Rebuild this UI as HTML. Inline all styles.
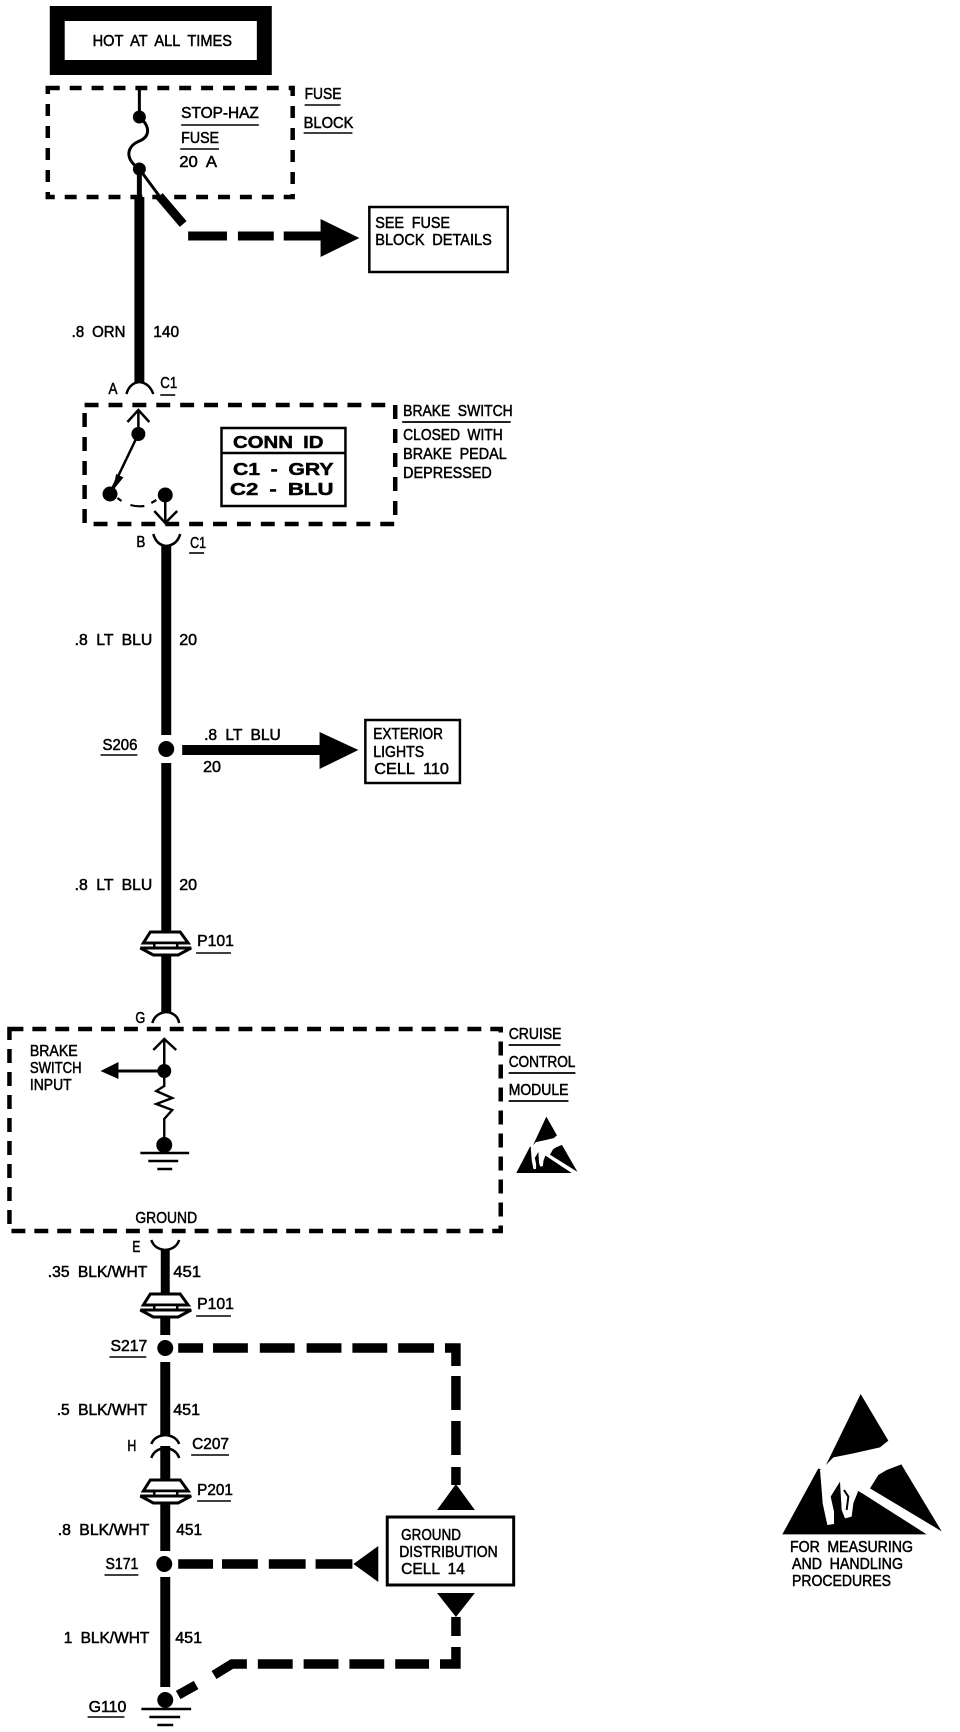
<!DOCTYPE html>
<html><head><meta charset="utf-8"><style>
html,body{margin:0;padding:0;background:#fff;width:960px;height:1732px;overflow:hidden}
svg{display:block}
text{font-family:"Liberation Sans",sans-serif;font-size:15.5px;fill:#000;stroke:#000;stroke-width:.5;word-spacing:4px}
.b{font-size:18px;font-weight:bold}
</style></head><body>
<svg width="960" height="1732" viewBox="0 0 960 1732" xmlns="http://www.w3.org/2000/svg">
<g transform="scale(.9955,1)">
<!-- HOT box -->
<rect x="57.5" y="13.5" width="208" height="54" fill="#fff" stroke="#000" stroke-width="15"/>
<text x="93" y="46" textLength="140" lengthAdjust="spacingAndGlyphs">HOT AT ALL TIMES</text>
<!-- Fuse block -->
<rect x="48" y="88" width="246" height="109" fill="none" stroke="#000" stroke-width="4.5" stroke-dasharray="12 10"/>
<path d="M140 88V117" stroke="#000" stroke-width="3"/>
<path d="M140 117C152 127 150 137 140 141C128 146 124 158 140 169" fill="none" stroke="#000" stroke-width="3"/>
<circle cx="140" cy="117" r="6.5"/><circle cx="140" cy="169" r="6.5"/>
<path d="M140 169V197" stroke="#000" stroke-width="5"/>
<path d="M140 197V382" stroke="#000" stroke-width="10"/>
<path d="M140 169L160 196" stroke="#000" stroke-width="3"/>
<path d="M160 196L184 224" stroke="#000" stroke-width="9"/>
<path d="M189 236H228M239 236H275M285 236H323" stroke="#000" stroke-width="9"/>
<polygon points="322,219 361,238 322,257"/>
<rect x="371" y="207" width="139" height="65" fill="#fff" stroke="#000" stroke-width="2.5"/>
<text x="377" y="228" textLength="75" lengthAdjust="spacingAndGlyphs">SEE FUSE</text>
<text x="377" y="245" textLength="117" lengthAdjust="spacingAndGlyphs">BLOCK DETAILS</text>
<text x="306" y="99" textLength="37" lengthAdjust="spacingAndGlyphs">FUSE</text>
<path d="M306 105H342" stroke="#000" stroke-width="1.6"/>
<text x="305" y="128" textLength="50" lengthAdjust="spacingAndGlyphs">BLOCK</text>
<path d="M305 133H354" stroke="#000" stroke-width="1.6"/>
<text x="182" y="118" textLength="78" lengthAdjust="spacingAndGlyphs">STOP-HAZ</text>
<path d="M182 125H260" stroke="#000" stroke-width="1.6"/>
<text x="182" y="143" textLength="38" lengthAdjust="spacingAndGlyphs">FUSE</text>
<path d="M181 149H220" stroke="#000" stroke-width="1.6"/>
<text x="180" y="167" textLength="38" lengthAdjust="spacingAndGlyphs">20 A</text>
<text x="72" y="337" textLength="54" lengthAdjust="spacingAndGlyphs">.8 ORN</text>
<text x="154" y="337" textLength="26" lengthAdjust="spacingAndGlyphs">140</text>
<text x="109" y="394" textLength="9" lengthAdjust="spacingAndGlyphs">A</text>
<text x="161" y="388" textLength="17" lengthAdjust="spacingAndGlyphs">C1</text>
<path d="M161 395H176" stroke="#000" stroke-width="1.6"/>
<path d="M127 394Q130 383 140 382Q150 383 154 394" fill="none" stroke="#000" stroke-width="2.5"/>
<!-- Brake switch -->
<rect x="85" y="405" width="312" height="119" fill="none" stroke="#000" stroke-width="4.5" stroke-dasharray="14 10"/>
<path d="M139 410V434M128 422L139 410L150 422" fill="none" stroke="#000" stroke-width="2.5"/>
<circle cx="139" cy="434" r="7"/><circle cx="110.5" cy="494" r="7.5"/><circle cx="166" cy="495" r="7.5"/>
<path d="M139 434L112 490" stroke="#000" stroke-width="2.5"/>
<polygon points="113,491 116.7,474 124,477.4"/>
<path d="M118 498L122 501M131 505Q138 507 145 506M152 503L157 500" fill="none" stroke="#000" stroke-width="2.2"/>
<path d="M166 495V523M155 511L166 523L178 511" fill="none" stroke="#000" stroke-width="2.5"/>
<rect x="222.5" y="428" width="124.5" height="78" fill="#fff" stroke="#000" stroke-width="2.5"/>
<path d="M222 453H347" stroke="#000" stroke-width="2.5"/>
<text class="b" x="234" y="448" textLength="91" lengthAdjust="spacingAndGlyphs">CONN ID</text>
<text class="b" x="234" y="475" textLength="101" lengthAdjust="spacingAndGlyphs">C1 - GRY</text>
<text class="b" x="231" y="495" textLength="104" lengthAdjust="spacingAndGlyphs">C2 - BLU</text>
<text x="405" y="416" textLength="110" lengthAdjust="spacingAndGlyphs">BRAKE SWITCH</text>
<path d="M404 422H513" stroke="#000" stroke-width="1.8"/>
<text x="405" y="440" textLength="100" lengthAdjust="spacingAndGlyphs">CLOSED WITH</text>
<text x="405" y="459" textLength="104" lengthAdjust="spacingAndGlyphs">BRAKE PEDAL</text>
<text x="405" y="478" textLength="89" lengthAdjust="spacingAndGlyphs">DEPRESSED</text>
<text x="137" y="547" textLength="9" lengthAdjust="spacingAndGlyphs">B</text>
<text x="191" y="548" textLength="16" lengthAdjust="spacingAndGlyphs">C1</text>
<path d="M190 553H205" stroke="#000" stroke-width="1.6"/>
<path d="M154 534Q157 545 167 546Q178 545 181 534" fill="none" stroke="#000" stroke-width="2.5"/>
<!-- Main wire -->
<path d="M167 546V735M167 763V933" stroke="#000" stroke-width="10"/>
<circle cx="167" cy="749" r="8"/>
<text x="75" y="645" textLength="78" lengthAdjust="spacingAndGlyphs">.8 LT BLU</text>
<text x="180" y="645" textLength="18" lengthAdjust="spacingAndGlyphs">20</text>
<text x="103" y="750" textLength="35" lengthAdjust="spacingAndGlyphs">S206</text>
<path d="M101 755H138" stroke="#000" stroke-width="1.6"/>
<path d="M183 750H323" stroke="#000" stroke-width="10"/>
<polygon points="321,732 360,750 321,769"/>
<text x="205" y="740" textLength="77" lengthAdjust="spacingAndGlyphs">.8 LT BLU</text>
<text x="204" y="772" textLength="18" lengthAdjust="spacingAndGlyphs">20</text>
<rect x="367" y="720" width="95" height="63" fill="#fff" stroke="#000" stroke-width="2.5"/>
<text x="375" y="739" textLength="70" lengthAdjust="spacingAndGlyphs">EXTERIOR</text>
<text x="375" y="757" textLength="51" lengthAdjust="spacingAndGlyphs">LIGHTS</text>
<text x="376" y="774" textLength="75" lengthAdjust="spacingAndGlyphs">CELL 110</text>
<text x="75" y="890" textLength="78" lengthAdjust="spacingAndGlyphs">.8 LT BLU</text>
<text x="180" y="890" textLength="18" lengthAdjust="spacingAndGlyphs">20</text>
<!-- P101 a -->
<g fill="#fff" stroke="#000" stroke-width="3">
<path d="M151 932H181L189 943H144Z"/>
<path d="M155 943H178V948H155Z" stroke-width="2.5"/>
<path d="M141 948H192L179 955H154Z"/>
</g>
<path d="M167 956V1013" stroke="#000" stroke-width="10"/>
<text x="198" y="946" textLength="37" lengthAdjust="spacingAndGlyphs">P101</text>
<path d="M197 953H232" stroke="#000" stroke-width="1.6"/>
<text x="136" y="1023" textLength="10" lengthAdjust="spacingAndGlyphs">G</text>
<path d="M153 1023Q156 1013 167 1012Q178 1013 180 1023" fill="none" stroke="#000" stroke-width="2.5"/>
<!-- Cruise module -->
<rect x="9.5" y="1029" width="493.5" height="202" fill="none" stroke="#000" stroke-width="4.5" stroke-dasharray="14 9"/>
<path d="M165 1039V1071M154 1050L165 1039L177 1050" fill="none" stroke="#000" stroke-width="2.5"/>
<circle cx="165" cy="1071" r="7"/>
<path d="M165 1071H118" stroke="#000" stroke-width="3"/>
<polygon points="101,1071 119,1062 119,1079"/>
<path d="M165 1078V1086L157 1091L173 1098L157 1104L173 1110L165 1119V1145" fill="none" stroke="#000" stroke-width="2.4"/>
<circle cx="165" cy="1145" r="8"/>
<path d="M141 1153H190M149 1161H179M158 1169H173" stroke="#000" stroke-width="2.5"/>
<text x="30" y="1056" textLength="48" lengthAdjust="spacingAndGlyphs">BRAKE</text>
<text x="30" y="1073" textLength="52" lengthAdjust="spacingAndGlyphs">SWITCH</text>
<text x="30" y="1090" textLength="42" lengthAdjust="spacingAndGlyphs">INPUT</text>
<text x="136" y="1223" textLength="62" lengthAdjust="spacingAndGlyphs">GROUND</text>
<text x="133" y="1252" textLength="8" lengthAdjust="spacingAndGlyphs">E</text>
<path d="M152 1240Q155 1249 166 1250Q177 1249 180 1240" fill="none" stroke="#000" stroke-width="2.5"/>
<text x="511" y="1039" textLength="53" lengthAdjust="spacingAndGlyphs">CRUISE</text>
<path d="M511 1045H563" stroke="#000" stroke-width="1.8"/>
<text x="511" y="1067" textLength="67" lengthAdjust="spacingAndGlyphs">CONTROL</text>
<path d="M511 1073H578" stroke="#000" stroke-width="1.8"/>
<text x="511" y="1095" textLength="60" lengthAdjust="spacingAndGlyphs">MODULE</text>
<path d="M511 1101H571" stroke="#000" stroke-width="1.8"/>
<!-- Lower wire -->
<path d="M166 1250V1294" stroke="#000" stroke-width="9"/>
<text x="48" y="1277" textLength="100" lengthAdjust="spacingAndGlyphs">.35 BLK/WHT</text>
<text x="174" y="1277" textLength="28" lengthAdjust="spacingAndGlyphs">451</text>
<g fill="#fff" stroke="#000" stroke-width="3">
<path d="M151 1294H181L189 1305H144Z"/>
<path d="M155 1305H178V1310H155Z" stroke-width="2.5"/>
<path d="M141 1310H192L179 1317H154Z"/>
</g>
<text x="198" y="1309" textLength="37" lengthAdjust="spacingAndGlyphs">P101</text>
<path d="M197 1316H232" stroke="#000" stroke-width="1.6"/>
<path d="M166 1318V1335M166 1362V1436M166 1446V1481" stroke="#000" stroke-width="10"/>
<circle cx="166" cy="1348" r="8"/>
<path d="M152 1444Q155 1436 166 1435Q177 1436 180 1444M152 1458Q155 1449 166 1448Q177 1449 180 1458" fill="none" stroke="#000" stroke-width="2.5"/>
<text x="111" y="1351" textLength="37" lengthAdjust="spacingAndGlyphs">S217</text>
<path d="M110 1357H147" stroke="#000" stroke-width="1.6"/>
<text x="57" y="1415" textLength="91" lengthAdjust="spacingAndGlyphs">.5 BLK/WHT</text>
<text x="174" y="1415" textLength="27" lengthAdjust="spacingAndGlyphs">451</text>
<text x="128" y="1451" textLength="9" lengthAdjust="spacingAndGlyphs">H</text>
<text x="193" y="1449" textLength="37" lengthAdjust="spacingAndGlyphs">C207</text>
<path d="M192 1455H230" stroke="#000" stroke-width="1.6"/>
<g fill="#fff" stroke="#000" stroke-width="3">
<path d="M151 1480H181L189 1491H144Z"/>
<path d="M155 1491H178V1496H155Z" stroke-width="2.5"/>
<path d="M141 1496H192L179 1503H154Z"/>
</g>
<text x="198" y="1495" textLength="36" lengthAdjust="spacingAndGlyphs">P201</text>
<path d="M198 1501H232" stroke="#000" stroke-width="1.6"/>
<path d="M166 1504V1551M166 1577V1687" stroke="#000" stroke-width="10"/>
<circle cx="165" cy="1564" r="8"/>
<text x="58" y="1535" textLength="92" lengthAdjust="spacingAndGlyphs">.8 BLK/WHT</text>
<text x="177" y="1535" textLength="26" lengthAdjust="spacingAndGlyphs">451</text>
<text x="106" y="1569" textLength="33" lengthAdjust="spacingAndGlyphs">S171</text>
<path d="M105 1575H139" stroke="#000" stroke-width="1.6"/>
<text x="64" y="1643" textLength="86" lengthAdjust="spacingAndGlyphs">1 BLK/WHT</text>
<text x="176" y="1643" textLength="27" lengthAdjust="spacingAndGlyphs">451</text>
<circle cx="166" cy="1700" r="8"/>
<path d="M142 1709H192M150 1717H181M158 1725H174" stroke="#000" stroke-width="2.5"/>
<text x="89" y="1712" textLength="38" lengthAdjust="spacingAndGlyphs">G110</text>
<path d="M88 1717H125" stroke="#000" stroke-width="1.6"/>
<!-- Dashed ground -->
<g fill="none" stroke="#000" stroke-width="9.5">
<path d="M179 1348H204M214 1348H249M261 1348H296M308 1348H343M354 1348H389M400 1348H436"/>
<path d="M447 1348H458V1366M458 1376V1410M458 1421V1455M458 1467V1485"/>
<path d="M179 1564H214M223 1564H259M270 1564H307M317 1564H354"/>
<path d="M458 1617V1636M458 1647V1664H442M431 1664H397M386 1664H351M340 1664H305M294 1664H259M248 1664H233L215 1675M197 1685L179 1695"/>
</g>
<polygon points="458,1484 477,1510 439,1510"/>
<polygon points="355,1564 380,1546 380,1582"/>
<polygon points="458,1617 477,1593 439,1593"/>
<rect x="389" y="1517" width="127" height="68" fill="#fff" stroke="#000" stroke-width="3"/>
<text x="403" y="1540" textLength="60" lengthAdjust="spacingAndGlyphs">GROUND</text>
<text x="401" y="1557" textLength="99" lengthAdjust="spacingAndGlyphs">DISTRIBUTION</text>
<text x="403" y="1574" textLength="64" lengthAdjust="spacingAndGlyphs">CELL 14</text>
</g>
<!-- ESD small -->
<g transform="translate(500,1107) scale(.128,.134)">
<polygon points="362,72 445,212 420,232 340,250 280,262 258,285"/>
<polygon points="235,295 127,493 560,493 370,372 300,330"/>
<polygon points="484,283 605,484 390,355 415,315 440,300"/>
<polygon fill="#fff" points="240,300 275,300 355,362 340,400 335,440 315,445 305,420 300,335 272,380 282,425 282,462 262,465 248,400 245,360"/>
</g>
<!-- ESD large -->
<g transform="translate(740,1370) scale(.33333)">
<polygon points="362,72 445,212 420,232 340,250 280,262 258,285"/>
<polygon points="235,295 127,493 560,493 370,372 300,330"/>
<polygon points="484,283 605,484 390,355 415,315 440,300"/>
<polygon fill="#fff" points="240,300 275,300 355,362 340,400 335,440 315,445 305,420 300,335 272,380 282,425 282,462 262,465 248,400 245,360"/>
<path d="M312 360L325 380L320 420" fill="none" stroke="#000" stroke-width="6"/>
</g>
<text x="790" y="1552" textLength="123" lengthAdjust="spacingAndGlyphs">FOR MEASURING</text>
<text x="792" y="1569" textLength="111" lengthAdjust="spacingAndGlyphs">AND HANDLING</text>
<text x="792" y="1586" textLength="99" lengthAdjust="spacingAndGlyphs">PROCEDURES</text>
</svg>
</body></html>
